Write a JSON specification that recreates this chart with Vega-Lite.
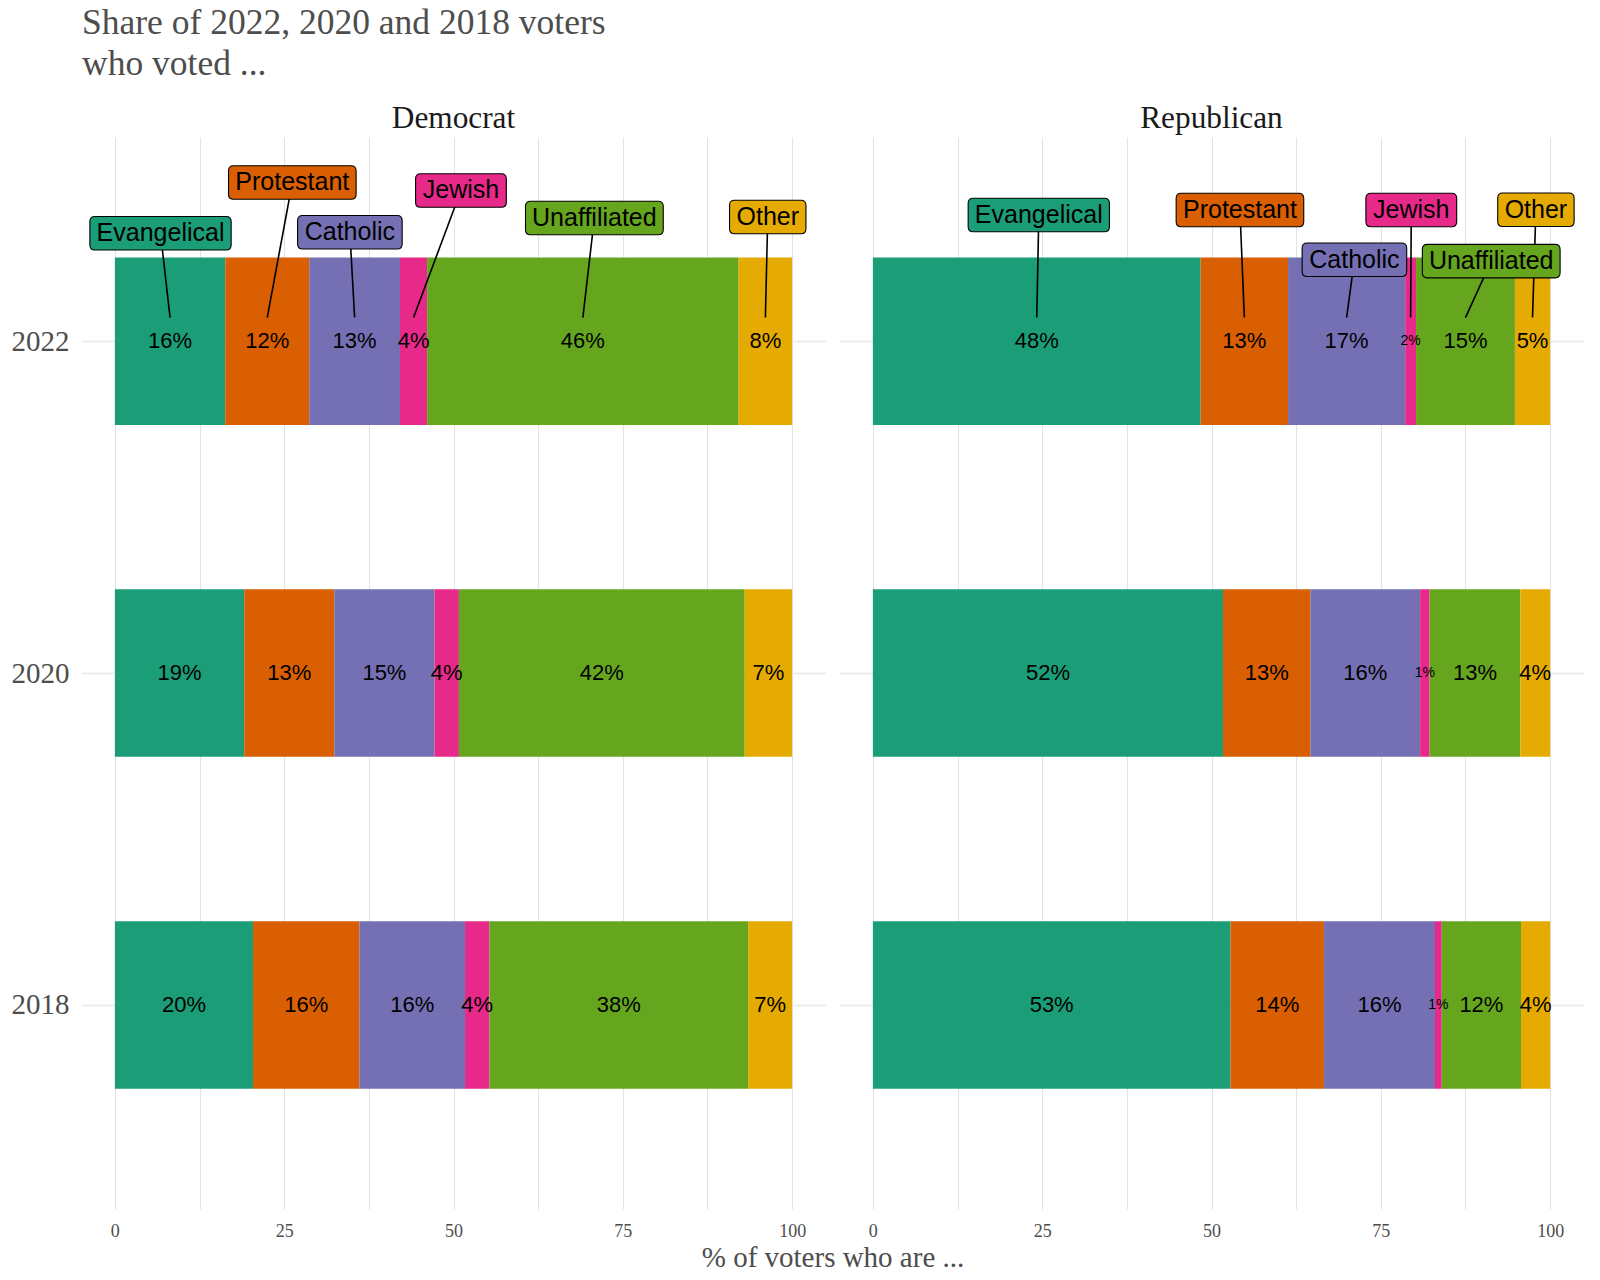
{
  "$schema": "https://vega.github.io/schema/vega-lite/v6.json",
  "background": "white",
  "padding": {"left": 11, "top": 6, "right": 5, "bottom": 5},
  "title": {
    "text": ["Share of 2022, 2020 and 2018 voters", "who voted ..."],
    "anchor": "start",
    "font": "Liberation Serif",
    "fontSize": 35.5,
    "fontWeight": "normal",
    "color": "#4d4d4d",
    "lineHeight": 41,
    "offset": 20,
    "dx": 71
  },
  "data": {
    "values": [
      {"party": "Democrat", "year": 2022, "religion": "Evangelical", "pct": 16.3, "lx": 6.74, "ly": 2022.65},
      {"party": "Democrat", "year": 2022, "religion": "Protestant", "pct": 12.4, "lx": 26.2, "ly": 2022.956},
      {"party": "Democrat", "year": 2022, "religion": "Catholic", "pct": 13.4, "lx": 34.7, "ly": 2022.656},
      {"party": "Democrat", "year": 2022, "religion": "Jewish", "pct": 4.0, "lx": 51.1, "ly": 2022.908},
      {"party": "Democrat", "year": 2022, "religion": "Unaffiliated", "pct": 46.0, "lx": 70.8, "ly": 2022.742},
      {"party": "Democrat", "year": 2022, "religion": "Other", "pct": 7.9, "lx": 96.4, "ly": 2022.748},
      {"party": "Democrat", "year": 2020, "religion": "Evangelical", "pct": 19.1},
      {"party": "Democrat", "year": 2020, "religion": "Protestant", "pct": 13.3},
      {"party": "Democrat", "year": 2020, "religion": "Catholic", "pct": 14.8},
      {"party": "Democrat", "year": 2020, "religion": "Jewish", "pct": 3.6},
      {"party": "Democrat", "year": 2020, "religion": "Unaffiliated", "pct": 42.2},
      {"party": "Democrat", "year": 2020, "religion": "Other", "pct": 7.0},
      {"party": "Democrat", "year": 2018, "religion": "Evangelical", "pct": 20.4},
      {"party": "Democrat", "year": 2018, "religion": "Protestant", "pct": 15.7},
      {"party": "Democrat", "year": 2018, "religion": "Catholic", "pct": 15.6},
      {"party": "Democrat", "year": 2018, "religion": "Jewish", "pct": 3.6},
      {"party": "Democrat", "year": 2018, "religion": "Unaffiliated", "pct": 38.2},
      {"party": "Democrat", "year": 2018, "religion": "Other", "pct": 6.5},
      {"party": "Republican", "year": 2022, "religion": "Evangelical", "pct": 48.4, "lx": 24.5, "ly": 2022.76},
      {"party": "Republican", "year": 2022, "religion": "Protestant", "pct": 12.9, "lx": 54.2, "ly": 2022.79},
      {"party": "Republican", "year": 2022, "religion": "Catholic", "pct": 17.3, "lx": 71.1, "ly": 2022.49},
      {"party": "Republican", "year": 2022, "religion": "Jewish", "pct": 1.6, "lx": 79.5, "ly": 2022.79},
      {"party": "Republican", "year": 2022, "religion": "Unaffiliated", "pct": 14.6, "lx": 91.3, "ly": 2022.482},
      {"party": "Republican", "year": 2022, "religion": "Other", "pct": 5.2, "lx": 97.9, "ly": 2022.792},
      {"party": "Republican", "year": 2020, "religion": "Evangelical", "pct": 51.7},
      {"party": "Republican", "year": 2020, "religion": "Protestant", "pct": 12.9},
      {"party": "Republican", "year": 2020, "religion": "Catholic", "pct": 16.2},
      {"party": "Republican", "year": 2020, "religion": "Jewish", "pct": 1.4},
      {"party": "Republican", "year": 2020, "religion": "Unaffiliated", "pct": 13.4},
      {"party": "Republican", "year": 2020, "religion": "Other", "pct": 4.4},
      {"party": "Republican", "year": 2018, "religion": "Evangelical", "pct": 52.8},
      {"party": "Republican", "year": 2018, "religion": "Protestant", "pct": 13.8},
      {"party": "Republican", "year": 2018, "religion": "Catholic", "pct": 16.4},
      {"party": "Republican", "year": 2018, "religion": "Jewish", "pct": 1.0},
      {"party": "Republican", "year": 2018, "religion": "Unaffiliated", "pct": 11.7},
      {"party": "Republican", "year": 2018, "religion": "Other", "pct": 4.3}
    ]
  },
  "transform": [
    {"calculate": "indexof(['Evangelical','Protestant','Catholic','Jewish','Unaffiliated','Other'], datum.religion)", "as": "ord"},
    {"stack": "pct", "groupby": ["party", "year"], "sort": [{"field": "ord", "order": "ascending"}], "as": ["x0", "x1"]},
    {"calculate": "(datum.x0 + datum.x1) / 2", "as": "mid"},
    {"calculate": "format(datum.pct, '.0f') + '%'", "as": "lbl"}
  ],
  "facet": {
    "column": {
      "field": "party",
      "type": "nominal",
      "title": "% of voters who are ...",
      "header": {
        "titleOrient": "bottom",
        "labelOrient": "top",
        "titleFont": "Liberation Serif",
        "titleFontSize": 29,
        "titleFontWeight": "normal",
        "titleColor": "#4d4d4d",
        "titlePadding": -6,
        "labelFont": "Liberation Serif",
        "labelFontSize": 31.3,
        "labelColor": "#1a1a1a",
        "labelPadding": 3
      }
    }
  },
  "spacing": 13,
  "spec": {
    "width": 745,
    "height": 1072,
    "layer": [
      {
        "mark": {"type": "bar", "orient": "horizontal", "height": 167.5},
        "encoding": {
          "y": {
            "field": "year", "type": "quantitative", "title": null,
            "scale": {"domain": [2016.8, 2023.2], "nice": false, "zero": false},
            "axis": {"values": [2018, 2020, 2022], "format": "d", "grid": true, "gridColor": "#e8e8e8", "gridWidth": 1.5, "labelFontSize": 29, "labelPadding": 12}
          },
          "x": {
            "field": "x0", "type": "quantitative", "title": null,
            "scale": {"domain": [-5, 105], "nice": false, "zero": false},
            "axis": {
              "values": [0, 12.5, 25, 37.5, 50, 62.5, 75, 87.5, 100],
              "labelExpr": "datum.value % 25 === 0 ? datum.label : ''",
              "labelFontSize": 18,
              "labelPadding": 13,
              "gridColor": "#e3e3e3",
              "gridWidth": 1.1
            }
          },
          "x2": {"field": "x1"},
          "color": {
            "field": "religion", "type": "nominal", "legend": null,
            "scale": {
              "domain": ["Evangelical", "Protestant", "Catholic", "Jewish", "Unaffiliated", "Other"],
              "range": ["#1B9E77", "#D95F02", "#7570B3", "#E7298A", "#66A61E", "#E6AB02"]
            }
          }
        }
      },
      {
        "mark": {"type": "text", "font": "Liberation Sans", "color": "black", "align": "center", "baseline": "middle"},
        "encoding": {
          "y": {"field": "year", "type": "quantitative", "title": null},
          "x": {"field": "mid", "type": "quantitative", "title": null},
          "text": {"field": "lbl"},
          "size": {"condition": {"test": "datum.pct < 2", "value": 14}, "value": 22}
        }
      },
      {
        "transform": [{"filter": "isValid(datum.lx)"}],
        "mark": {"type": "rule", "color": "black", "strokeWidth": 1.6},
        "encoding": {
          "x": {"field": "lx", "type": "quantitative", "title": null},
          "x2": {"field": "mid"},
          "y": {"field": "ly", "type": "quantitative", "title": null},
          "y2": {"datum": 2022.142}
        }
      },
      {
        "transform": [{"filter": "isValid(datum.lx)"}],
        "mark": {"type": "point", "filled": true, "opacity": 1, "stroke": "black", "strokeWidth": 1.1, "size": 1122},
        "encoding": {
          "x": {"field": "lx", "type": "quantitative", "title": null},
          "y": {"field": "ly", "type": "quantitative", "title": null},
          "color": {"field": "religion", "type": "nominal", "legend": null},
          "shape": {
            "field": "religion", "type": "nominal", "legend": null,
            "scale": {
              "domain": ["Evangelical", "Protestant", "Catholic", "Jewish", "Unaffiliated", "Other"],
              "range": [
                "M-3.918,-1L3.918,-1Q4.218,-1 4.218,-0.7L4.218,0.7Q4.218,1 3.918,1L-3.918,1Q-4.218,1 -4.218,0.7L-4.218,-0.7Q-4.218,-1 -3.918,-1Z",
                "M-3.509,-1L3.509,-1Q3.809,-1 3.809,-0.7L3.809,0.7Q3.809,1 3.509,1L-3.509,1Q-3.809,1 -3.809,0.7L-3.809,-0.7Q-3.809,-1 -3.509,-1Z",
                "M-2.822,-1L2.822,-1Q3.122,-1 3.122,-0.7L3.122,0.7Q3.122,1 2.822,1L-2.822,1Q-3.122,1 -3.122,0.7L-3.122,-0.7Q-3.122,-1 -2.822,-1Z",
                "M-2.41,-1L2.41,-1Q2.71,-1 2.71,-0.7L2.71,0.7Q2.71,1 2.41,1L-2.41,1Q-2.71,1 -2.71,0.7L-2.71,-0.7Q-2.71,-1 -2.41,-1Z",
                "M-3.813,-1L3.813,-1Q4.113,-1 4.113,-0.7L4.113,0.7Q4.113,1 3.813,1L-3.813,1Q-4.113,1 -4.113,0.7L-4.113,-0.7Q-4.113,-1 -3.813,-1Z",
                "M-1.981,-1L1.981,-1Q2.281,-1 2.281,-0.7L2.281,0.7Q2.281,1 1.981,1L-1.981,1Q-2.281,1 -2.281,0.7L-2.281,-0.7Q-2.281,-1 -1.981,-1Z"
              ]
            }
          }
        }
      },
      {
        "transform": [{"filter": "isValid(datum.lx)"}],
        "mark": {"type": "text", "font": "Liberation Sans", "fontSize": 25, "color": "black", "align": "center", "baseline": "middle"},
        "encoding": {
          "x": {"field": "lx", "type": "quantitative", "title": null},
          "y": {"field": "ly", "type": "quantitative", "title": null},
          "text": {"field": "religion"}
        }
      }
    ]
  },
  "config": {
    "view": {"stroke": null},
    "axis": {
      "domain": false,
      "ticks": false,
      "labelFont": "Liberation Serif",
      "labelColor": "#4d4d4d",
      "titleFont": "Liberation Serif",
      "titleColor": "#4d4d4d",
      "titleFontWeight": "normal"
    }
  }
}
